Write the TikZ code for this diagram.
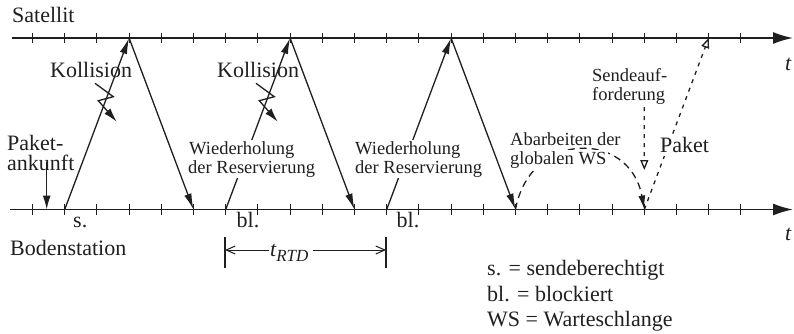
\documentclass[tikz,border=0pt]{standalone}
\usepackage{fontspec}
\setmainfont{Liberation Serif}
\usetikzlibrary{arrows.meta}
\definecolor{ink}{gray}{0.12}
\tikzset{
  blitz/.pic={\draw[ink, line width=1.3pt, -{Latex[length=14pt,width=8pt]}] (0,0) -- (18.3,13.4) -- (3.3,17.4) -- (21.7,38.4);}
}
\begin{document}
\begin{tikzpicture}[x=1pt,y=-1pt,
  every node/.style={text=ink},
  big/.style={font=\fontsize{22}{24}\selectfont, inner sep=0pt, anchor=base west},
  small/.style={font=\fontsize{18.5}{20}\selectfont, inner sep=0pt, anchor=base west},
  knock/.style={fill=white, inner sep=1.5pt},
  axis/.style={draw=ink, line width=1.7pt, -{Latex[length=20pt,width=12pt]}},
  tickmark/.style={draw=ink, line width=1.1pt},
  sig/.style={draw=ink, line width=1.3pt, -{Latex[length=16pt,width=7.5pt]}},
  dashsig/.style={draw=ink, line width=1.3pt, dash pattern=on 7pt off 5pt, -{Latex[length=14pt,width=7pt]}},
  dotsig/.style={draw=ink, line width=1.3pt, dash pattern=on 4pt off 5pt, -{Triangle[open,length=10pt,width=8pt]}},
  dimarrow/.style={draw=ink, line width=1pt, -{Straight Barb[length=9pt,width=8pt]}},
  dimbar/.style={draw=ink, line width=1.1pt},
]
\useasboundingbox (0,0) rectangle (794,334);

% axes
\coordinate (sl) at (12,38);
\coordinate (sr) at (793,38);
\coordinate (gl) at (10,209.5);
\coordinate (gr) at (793,209.5);
\draw[axis] (sl) -- (sr);
\draw[axis] (gl) -- (gr);
\foreach \k in {0,...,22} {
  \coordinate (t\k) at ({32.5+32.2*\k},38);
  \coordinate (b\k) at ({32.5+32.2*\k},209.5);
  \draw[tickmark] ([yshift=5pt]t\k) -- ([yshift=-5pt]t\k);
  \draw[tickmark] ([yshift=5.5pt]b\k) -- ([yshift=-5.5pt]b\k);
}

% signals
\draw[sig] (b1) -- (t3);
\draw[sig] (t3) -- (b5);
\draw[sig] (b6) -- (t8);
\draw[sig] (t8) -- (b10);
\draw[sig] (b11) -- (t13);
\draw[sig] (t13) -- (b15);
\draw[dashsig] (b15) .. controls +(14.5,-79.5) and +(-14.3,-79.5) .. (b19);
\draw[dotsig] (b19) -- (t21);

% packet arrival
\coordinate (pa) at (46.7,162);
\coordinate (pb) at (46.7,209.5);
\draw[sig, -{Latex[length=14pt,width=8pt]}] (pa) -- (pb);

% collisions
\pic at (95,83.3) {blitz};
\pic at (256,83.3) {blitz};

% labels
\node[big] (sat) at (12,23) {Satellit};
\node[big] (bod) at (10,255) {Bodenstation};
\node[big] (pk1) at (7,150.5) {Paket-};
\node[big] (pk2) at (7,170) {ankunft};
\node[big] (k1) at (50,78) {Kollision};
\node[big] (k2) at (217,78) {Kollision};
\node[big] (s1) at (73,227) {s.};
\node[big] (bl1) at (236.5,227) {bl.};
\node[big] (bl2) at (396.5,227) {bl.};
\node[big] (tt) at (785,71) {\itshape t};
\node[big] (tb) at (785,240) {\itshape t};

\node[small,knock] (w1a) at (187.5,154.5) {Wiederholung};
\node[small,knock] (w1b) at (186.5,173) {der Reservierung};
\node[small,knock] (w2a) at (353.5,154.5) {Wiederholung};
\node[small,knock] (w2b) at (353.5,173) {der Reservierung};
\node[small,knock] (ab1) at (508.5,145.5) {Abarbeiten der};
\node[small,knock] (ab2) at (508.5,164) {globalen WS};
\node[big,knock,inner ysep=3pt] (pak) at (658.5,152.7) {Paket};

\node[small] (sa1) at (592,81.7) {Sendeauf-};
\node[small] (sa2) at (592,100) {forderung};
\coordinate (saend) at (644.3,170);
\draw[dotsig, shorten <=3pt] (sa2.south -| b19) -- (saend);

% t_RTD
\coordinate (r1t) at (225,237);
\coordinate (r1b) at (225,268);
\coordinate (r2t) at (386,237);
\coordinate (r2b) at (386,268);
\coordinate (r1) at (225,250);
\coordinate (r2) at (386,250);
\draw[dimbar] (r1t) -- (r1b);
\draw[dimbar] (r2t) -- (r2b);
\node[big, inner sep=1pt] (rtd) at (269,256) {\itshape t\raisebox{-5pt}{\fontsize{17}{17}\selectfont\itshape RTD}};
\draw[dimarrow] (rtd.west |- r1) -- (r1);
\draw[dimarrow, shorten <=3pt] (rtd.east |- r2) -- (r2);

% legend
\node[big] (lg1) at (487,275) {s. = sendeberechtigt};
\node[big] (lg2) at (487,301.5) {bl. = blockiert};
\node[big] (lg3) at (487,326.5) {WS = Warteschlange};
\end{tikzpicture}
\end{document}
